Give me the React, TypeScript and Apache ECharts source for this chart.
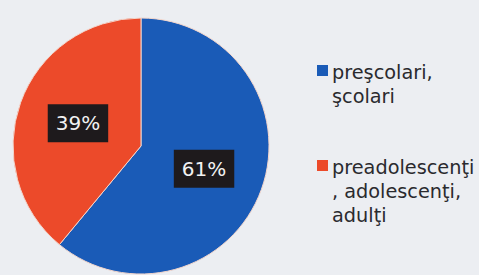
import React, { useEffect, useRef } from "react";
import * as echarts from "echarts";

const categories = ["preşcolari,\nşcolari", "preadolescenţi\n, adolescenţi,\nadulţi"];
const values = [61, 39];
const colors = ["#1a5bb7", "#ec4a2a"];
const legendTops = [65, 160];

export default function App() {
  const ref = useRef<HTMLDivElement>(null);
  useEffect(() => {
    const chart = echarts.init(ref.current!, null, { renderer: "svg" });
    const legendGraphics: any[] = [];
    categories.forEach((c, i) => {
      legendGraphics.push({
        type: "rect",
        left: 317,
        top: legendTops[i],
        shape: { width: 11, height: 11 },
        style: { fill: colors[i] },
      });
      legendGraphics.push({
        type: "text",
        x: 332,
        y: legendTops[i] - 5,
        style: {
          text: c,
          fontFamily: "DejaVu Sans",
          fontSize: 19.3,
          lineHeight: 24,
          fill: "#2a2a2e",
          verticalAlign: "top",
          align: "left",
        },
      });
    });
    chart.setOption({
      animation: false,
      backgroundColor: "#eceef2",
      graphic: legendGraphics,
      series: [
        {
          type: "pie",
          center: [141, 146],
          radius: 128,
          startAngle: 90,
          clockwise: true,
          itemStyle: { borderColor: "#f3d6cc", borderWidth: 1 },
          label: {
            position: "inside",
            formatter: "{d}%",
            fontFamily: "DejaVu Sans",
            fontSize: 20,
            lineHeight: 18,
            color: "#f2f2f2",
            backgroundColor: "#1e1a1c",
            padding: [10, 8],
          },
          labelLine: { show: false },
          data: categories.map((c, i) => ({
            name: c,
            value: values[i],
            itemStyle: { color: colors[i] },
          })),
        },
      ],
    });
    return () => chart.dispose();
  }, []);
  return (
    <div
      ref={ref}
      style={{ position: "absolute", left: 0, top: 0, width: 479, height: 275 }}
    />
  );
}
